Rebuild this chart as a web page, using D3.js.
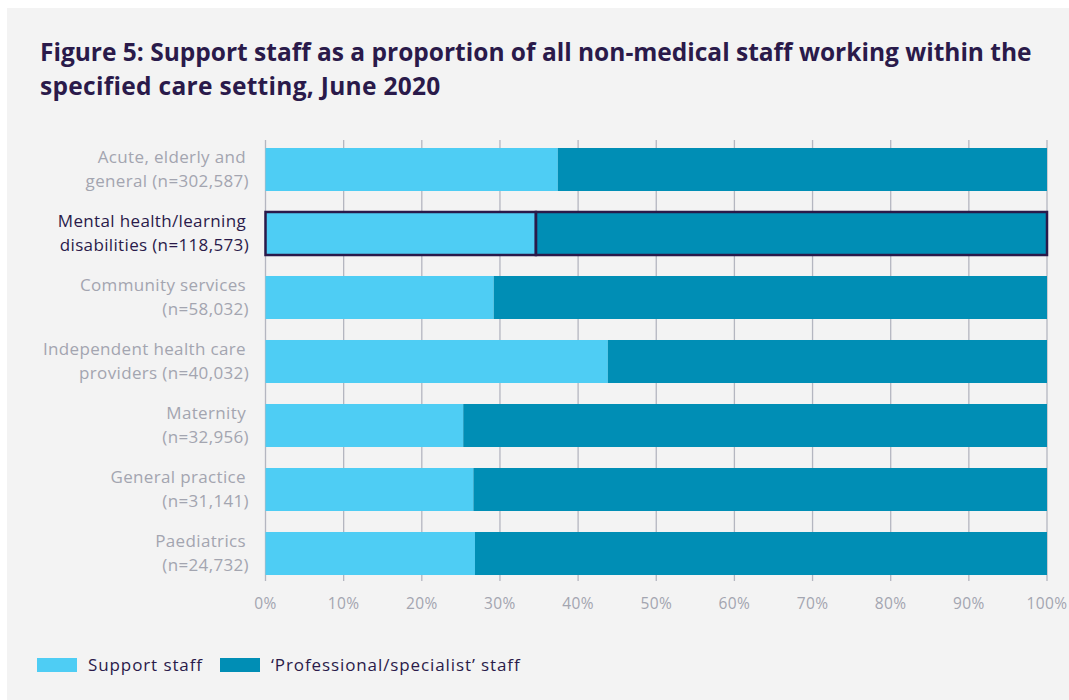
<!DOCTYPE html>
<html>
<head>
<meta charset="utf-8">
<script src="https://cdn.jsdelivr.net/npm/d3@7"></script>
<style>
  html, body { margin: 0; padding: 0; background: #ffffff; }
  svg { display: block; }
  text { font-family: "Open Sans", "Noto Sans", sans-serif; }
</style>
</head>
<body>
<svg id="chart" width="1069" height="700"></svg>
<script>
// Care settings, each label split over two lines
const settings = [
  ["Acute, elderly and", "general (n=302,587)"],
  ["Mental health/learning", "disabilities (n=118,573)"],
  ["Community services", "(n=58,032)"],
  ["Independent health care", "providers (n=40,032)"],
  ["Maternity", "(n=32,956)"],
  ["General practice", "(n=31,141)"],
  ["Paediatrics", "(n=24,732)"]
];
// Share of support staff (%) in each setting
const supportShare = [37.4, 34.6, 29.2, 43.8, 25.3, 26.6, 26.8];
// Share of professional/specialist staff (%)
const professionalShare = supportShare.map(v => 100 - v);
const highlighted = 1;
const tickValues = [0, 10, 20, 30, 40, 50, 60, 70, 80, 90, 100];
const seriesNames = ["Support staff", "\u2018Professional/specialist\u2019 staff"];

const colors = { support: "#4ecdf4", professional: "#008eb5" };
const ink = "#2a1a4a";
const muted = "#a3a5b0";

const svg = d3.select("#chart");

// panel background
svg.append("rect").attr("x", 7).attr("y", 8).attr("width", 1062).attr("height", 692).attr("fill", "#f3f3f3");

// title
const title = svg.append("text").attr("x", 40).attr("fill", ink)
  .style("font-size", "24.5px").style("font-weight", 700);
title.append("tspan").attr("x", 40).attr("y", 61).text("Figure 5: Support staff as a proportion of all non-medical staff working within the");
title.append("tspan").attr("x", 40).attr("y", 95).style("letter-spacing", "0.3px").text("specified care setting, June 2020");

const margin = { left: 265.5, right: 1047, top: 140, bottom: 581 };
const x = d3.scaleLinear().domain([0, 100]).range([margin.left, margin.right]);
const y = d3.scaleBand().domain(d3.range(settings.length)).range([137.5, 585.5]).paddingInner(0.328).paddingOuter(0.164);

// vertical gridlines
svg.append("g").selectAll("line").data(tickValues).join("line")
  .attr("x1", d => x(d)).attr("x2", d => x(d))
  .attr("y1", margin.top).attr("y2", margin.bottom)
  .attr("stroke", "#b4b6c0").attr("stroke-width", 1.3);

// tick labels
svg.append("g").selectAll("text").data(tickValues).join("text")
  .attr("x", d => x(d)).attr("y", 609)
  .attr("text-anchor", "middle").attr("fill", muted)
  .style("font-size", "15.5px").style("letter-spacing", "0.4px")
  .text(d => d + "%");

const rows = settings.map((s, i) => ({ i, s, sup: supportShare[i], pro: professionalShare[i] }));

// stacked bars
const g = svg.append("g");
g.selectAll("rect.sup").data(rows).join("rect").attr("class", "sup")
  .attr("x", x(0)).attr("y", d => y(d.i))
  .attr("width", d => x(d.sup) - x(0)).attr("height", y.bandwidth())
  .attr("fill", colors.support);
g.selectAll("rect.pro").data(rows).join("rect").attr("class", "pro")
  .attr("x", d => x(d.sup)).attr("y", d => y(d.i))
  .attr("width", d => x(d.sup + d.pro) - x(d.sup)).attr("height", y.bandwidth())
  .attr("fill", colors.professional);

// outline for the highlighted setting
const h = rows[highlighted];
svg.append("rect").attr("x", x(0)).attr("y", y(h.i))
  .attr("width", x(h.sup) - x(0)).attr("height", y.bandwidth())
  .attr("fill", "none").attr("stroke", ink).attr("stroke-width", 2.5);
svg.append("rect").attr("x", x(h.sup)).attr("y", y(h.i))
  .attr("width", x(100) - x(h.sup)).attr("height", y.bandwidth())
  .attr("fill", "none").attr("stroke", ink).attr("stroke-width", 2.5);

// category labels
const labels = svg.append("g").selectAll("text").data(rows).join("text")
  .attr("text-anchor", "end")
  .attr("fill", d => d.i === highlighted ? ink : muted)
  .style("font-size", "17px").style("letter-spacing", "0.35px");
labels.append("tspan").attr("x", 246).attr("y", d => y(d.i) + y.bandwidth() / 2 - 6.5).text(d => d.s[0]);
labels.append("tspan").attr("x", 249).attr("y", d => y(d.i) + y.bandwidth() / 2 + 17.5).text(d => d.s[1]);

// legend
const legend = svg.append("g");
const legendItems = [
  { name: seriesNames[0], color: colors.support, x: 37 },
  { name: seriesNames[1], color: colors.professional, x: 220 }
];
legend.selectAll("rect").data(legendItems).join("rect")
  .attr("x", d => d.x).attr("y", 658).attr("width", 40).attr("height", 14)
  .attr("fill", d => d.color);
legend.selectAll("text").data(legendItems).join("text")
  .attr("x", d => d.x + 51).attr("y", 671)
  .attr("fill", ink).style("font-size", "17px").style("letter-spacing", "0.9px")
  .text(d => d.name);
</script>
</body>
</html>
